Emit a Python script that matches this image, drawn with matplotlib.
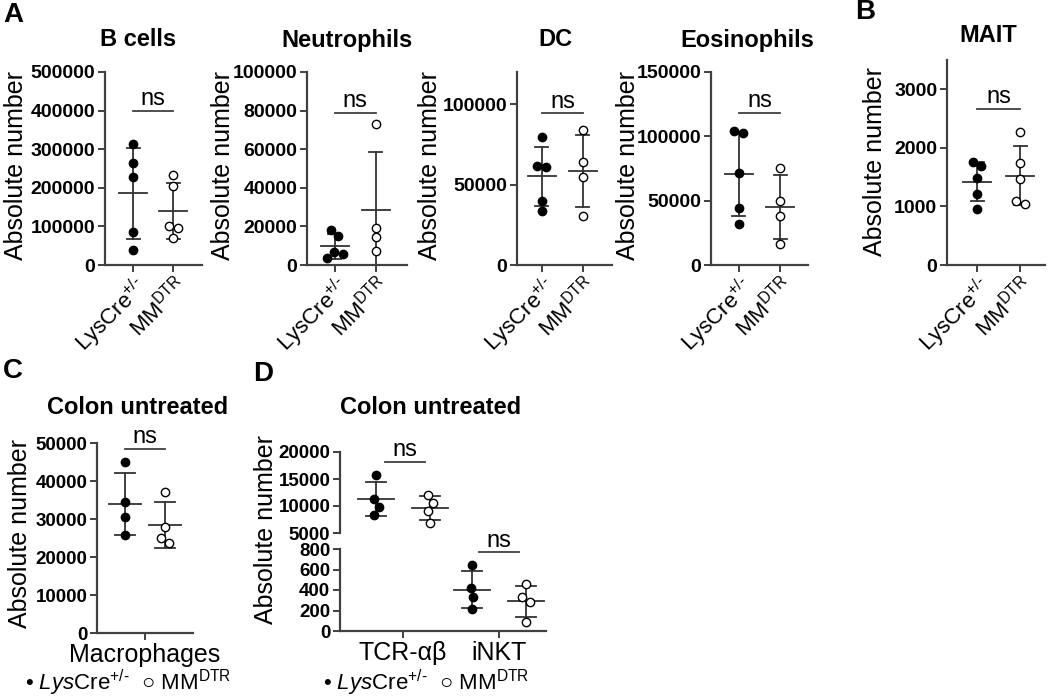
import numpy as np
import matplotlib
matplotlib.use("Agg")
import matplotlib.pyplot as plt

plt.rcParams['font.family'] = ['Liberation Sans', 'DejaVu Sans']
plt.rcParams['mathtext.fontset'] = 'custom'
plt.rcParams['mathtext.rm'] = 'Liberation Sans'
plt.rcParams['mathtext.it'] = 'Liberation Sans:italic'
plt.rcParams['mathtext.bf'] = 'Liberation Sans:bold'

# --- data ---
titles_top = ["B cells", "Neutrophils", "DC", "Eosinophils", "MAIT"]
groups_top = [r"LysCre$^{\text{+/-}}$", r"MM$^{\text{DTR}}$"]

bcells_lys = [313000, 263500, 227800, 85200, 39100]
bcells_mm = [232000, 204000, 100000, 97000, 70000]
neut_lys = [18260, 15130, 6600, 5565, 3480]
neut_mm = [73000, 19100, 14260, 7300]
dc_lys = [79600, 61500, 61000, 40000, 33300]
dc_mm = [84000, 64200, 54600, 30200]
eos_lys = [103800, 102500, 71700, 44300, 32100]
eos_mm = [75700, 49600, 38400, 16200]
mait_lys = [1755, 1687, 1488, 1217, 962]
mait_mm = [2264, 1743, 1471, 1092, 1047]

mac_lys = [45000, 34400, 30500, 25800]
mac_mm = [37000, 27900, 24900, 23600]
tcr_lys = [15680, 11300, 9880, 8400]
tcr_mm = [12000, 10560, 9140, 6850]
inkt_lys = [640, 417, 332, 213]
inkt_mm = [459, 328, 282, 89]

ns_top = [400000, 79000, 94400, 118400, 2670]
ns_mac = 48500
ns_tcr = 18150
ns_inkt = 767

yticks_top = [
    [0, 100000, 200000, 300000, 400000, 500000],
    [0, 20000, 40000, 60000, 80000, 100000],
    [0, 50000, 100000],
    [0, 50000, 100000, 150000],
    [0, 1000, 2000, 3000],
]
ylim_top = [500000, 100000, 120000, 150000, 3500]
yticks_mac = [0, 10000, 20000, 30000, 40000, 50000]
yticks_d_up = [5000, 10000, 15000, 20000]
yticks_d_low = [0, 200, 400, 600, 800]
cats_d = ["TCR-αβ", "iNKT"]

# --- layout helpers ---
W, H = 1050, 700
fig = plt.figure(figsize=(10.5, 7), dpi=100)
GRAY = '#404040'
ERR = '#333333'


def add_ax(l, t, r, b):
    return fig.add_axes([l / W, 1 - b / H, (r - l) / W, (b - t) / H])


def style(ax, bottom=True):
    for s in ('top', 'right'):
        ax.spines[s].set_visible(False)
    for s in ('left', 'bottom'):
        ax.spines[s].set_color(GRAY)
        ax.spines[s].set_linewidth(1.6)
    if not bottom:
        ax.spines['bottom'].set_visible(False)
        ax.tick_params(axis='x', length=0, labelbottom=False)
    ax.tick_params(axis='both', color=GRAY, width=1.4, length=5,
                   labelcolor='black', pad=2)


def set_yticks(ax, ticks, size=13.5):
    ax.set_yticks(ticks)
    ax.set_yticklabels([str(t) for t in ticks], fontsize=size,
                       fontweight='bold')


def px_per_x(ax):
    a = ax.transData.transform([(0, 0), (1, 0)])
    return a[1, 0] - a[0, 0]


def swarm(ax, x, vals, d=9.0):
    y = ax.transData.transform(np.column_stack([np.zeros(len(vals)), vals]))[:, 1]
    off = np.zeros(len(vals))
    placed = []
    for i in np.argsort(-y):
        found = None
        for s in np.arange(0, 60, 0.5):
            for c in (s, -s):
                if all((c - off[j]) ** 2 + (y[i] - y[j]) ** 2 >= d * d for j in placed):
                    found = c
                    break
            if found is not None:
                break
        off[i] = found
        placed.append(i)
    # centre each cluster of overlapping points
    idx = list(np.argsort(-y))
    cl = [idx[0]]
    for a, b in zip(idx[:-1], idx[1:]):
        if y[a] - y[b] < d:
            cl.append(b)
        else:
            off[cl] -= off[cl].mean()
            cl = [b]
    off[cl] -= off[cl].mean()
    return x + off / px_per_x(ax)


def group(ax, x, vals, filled, mean_hw, cap_hw):
    vals = np.asarray(vals, float)
    m = vals.mean()
    sd = vals.std(ddof=1)
    k = px_per_x(ax)
    ax.plot([x, x], [m - sd, m + sd], color=ERR, lw=1.3, zorder=2)
    for yy, hw in ((m, mean_hw), (m - sd, cap_hw), (m + sd, cap_hw)):
        ax.plot([x - hw / k, x + hw / k], [yy, yy], color=ERR, lw=1.3, zorder=2)
    xs = swarm(ax, x, vals)
    ax.plot(xs, vals, 'o', ms=6, mfc='black' if filled else 'white',
            mec='black', mew=1.0, zorder=3, clip_on=False, ls='none')


def ns_bar(ax, x0, x1, y):
    ax.plot([x0, x1], [y, y], color=GRAY, lw=1.3, clip_on=False)
    ax.annotate("ns", ((x0 + x1) / 2, y), xytext=(0, 4), textcoords='offset points',
                ha='center', va='baseline', fontsize=17, annotation_clip=False)


# --- panel A and B ---
boxes_top = [(105, 72, 202, 265), (307, 72, 407, 265), (517, 72, 612, 265),
             (711, 72, 808, 265), (947, 60, 1045, 265)]
xlims_top = [(-0.7, 1.72), (-0.68, 1.76), (-0.61, 1.71), (-0.68, 1.68), (-0.7, 1.58)]
title_pos = [(138, 40), (347, 40), (555, 40), (747, 40), (988, 36)]
ylabel_pos = [(16, 166), (223, 166), (430, 166), (628, 166), (875, 161)]
data_top = [(bcells_lys, bcells_mm), (neut_lys, neut_mm), (dc_lys, dc_mm),
            (eos_lys, eos_mm), (mait_lys, mait_mm)]

for i in range(5):
    ax = add_ax(*boxes_top[i])
    style(ax)
    ax.tick_params(axis='x', pad=0.5)
    ax.set_xlim(*xlims_top[i])
    ax.set_ylim(0, ylim_top[i])
    set_yticks(ax, yticks_top[i], 14)
    ax.set_xticks([0, 1])
    ax.set_xticklabels(groups_top, rotation=45, ha='right', va='top',
                       rotation_mode='anchor', fontsize=16)
    lys, mm = data_top[i]
    group(ax, 0, lys, True, 14, 6.5)
    group(ax, 1, mm, False, 14, 6.5)
    ns_bar(ax, 0, 1, ns_top[i])
    fig.text(title_pos[i][0] / W, 1 - title_pos[i][1] / H, titles_top[i],
             ha='center', va='center', fontsize=17, fontweight='bold')
    fig.text(ylabel_pos[i][0] / W, 1 - ylabel_pos[i][1] / H, "Absolute number",
             ha='center', va='center', rotation=90, fontsize=18)

# --- panel C ---
axc = add_ax(97, 443, 193, 633)
style(axc)
axc.set_xlim(-1, 1)
axc.set_ylim(0, 50000)
set_yticks(axc, yticks_mac)
axc.set_xticks([0])
axc.set_xticklabels(["Macrophages"], fontsize=18)
group(axc, -0.42, mac_lys, True, 16, 10)
group(axc, 0.42, mac_mm, False, 16, 10)
ns_bar(axc, -0.42, 0.42, ns_mac)
fig.text(138 / W, 1 - 408 / H, "Colon untreated", ha='center', va='center',
         fontsize=17, fontweight='bold')
fig.text(20 / W, 1 - 534 / H, "Absolute number", ha='center', va='center',
         rotation=90, fontsize=18)

# --- panel D (broken axis) ---
axu = add_ax(340, 452, 546, 533)
axl = add_ax(340, 549, 546, 631)
style(axu, bottom=False)
style(axl)
for a in (axu, axl):
    a.set_xlim(-0.656, 1.49)
axu.set_ylim(5000, 20000)
axl.set_ylim(0, 800)
set_yticks(axu, yticks_d_up)
set_yticks(axl, yticks_d_low)
axu.set_xticks([])
axl.set_xticks([0, 1])
axl.set_xticklabels(cats_d, fontsize=18)
off = 0.28
group(axu, 0 - off, tcr_lys, True, 18, 10)
group(axu, 0 + off, tcr_mm, False, 18, 10)
group(axl, 1 - off, inkt_lys, True, 18, 10)
group(axl, 1 + off, inkt_mm, False, 18, 10)
ns_bar(axu, -0.19, 0.23, ns_tcr)
ns_bar(axl, 1 - 0.21, 1 + 0.21, ns_inkt)
fig.text(431 / W, 1 - 408 / H, "Colon untreated", ha='center', va='center',
         fontsize=17, fontweight='bold')
fig.text(266 / W, 1 - 530 / H, "Absolute number", ha='center', va='center',
         rotation=90, fontsize=18)

# --- legends ---
leg = "• " + r"$\mathit{Lys}$Cre$^{\text{+/-}}$" + "  ○ MM" + r"$^{\text{DTR}}$"
fig.text(25 / W, 1 - 683 / H, leg, ha='left', va='center', fontsize=16)
fig.text(323 / W, 1 - 683 / H, leg, ha='left', va='center', fontsize=16)

# --- panel letters ---
for lab, (x, y) in zip("ABCD", [(3, 15), (855, 12), (3, 371), (253, 374)]):
    fig.text(x / W, 1 - y / H, lab, ha='left', va='center', fontsize=20,
             fontweight='bold')

fig.savefig("out.png", dpi=100)
